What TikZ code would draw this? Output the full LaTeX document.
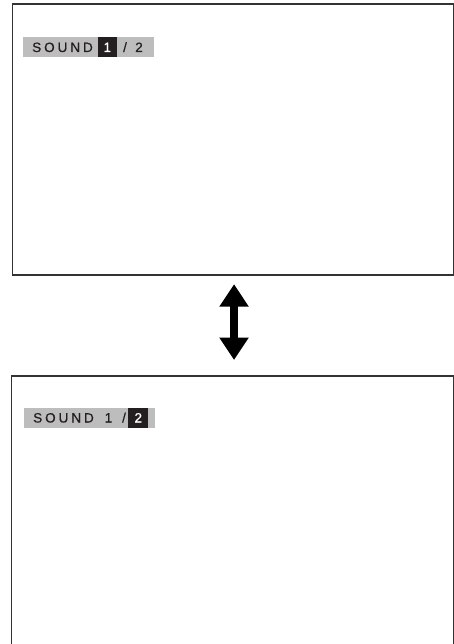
\documentclass[tikz,border=0pt]{standalone}
\usepackage{fontspec}
\setmainfont[FakeBold=0.7]{Liberation Sans}
\newfontfamily\osdfont[LetterSpace=22,FakeBold=0.7]{Liberation Sans}
\usetikzlibrary{positioning,arrows.meta}
\definecolor{osdgray}{HTML}{BDBDBD}
\definecolor{osdink}{HTML}{231F20}
\definecolor{framegray}{HTML}{333333}

\begin{document}
\begin{tikzpicture}[x=1pt, y=-1pt, font=\fontsize{13.5}{13.5}\selectfont,
	screen/.style={draw=framegray, line width=1.5pt, minimum width=441pt, anchor=north west, inner sep=0pt},
	osdbar/.style={fill=osdgray, minimum width=131pt, minimum height=19.5pt, anchor=north west, inner sep=0pt},
	selbox/.style={fill=osdink, text=white, minimum width=19.5pt, minimum height=19.5pt, inner sep=0pt},
	osdtext/.style={text=osdink, inner sep=0pt, anchor=base},
	updown/.style={{Triangle[length=22.5pt, width=28pt]}-{Triangle[length=22.5pt, width=28pt]}, line width=8pt}]
	\useasboundingbox (0,0) rectangle (454,644);
	% upper screen
	\node[screen, minimum height=270.5pt] (scr1) at (11.5,3.5) {};
	\node[osdbar] (bar1) at (23,37.3) {};
	\node[selbox] (sel1) at (107.3,47) {};
	\node[osdtext, anchor=base west] (snd1) at (32,52) {\osdfont SOUND};
	\node[osdtext, text=white] (one1) at (107.3,52) {1};
	\node[osdtext] (sl1) at (125,52) {/};
	\node[osdtext] (two1) at (139,52) {2};
	% lower screen, its bottom edge runs off the page
	\node[screen, draw=none, minimum height=280pt] (scr2) at (11.5,376) {};
	\draw[framegray, line width=1.5pt] (scr2.south west) -- (scr2.north west) -- (scr2.north east) -- (scr2.south east);
	\node[osdbar] (bar2) at (24,408) {};
	\node[selbox] (sel2) at (138,417.8) {};
	\node[osdtext, anchor=base west] (snd2) at (33,422.5) {\osdfont SOUND};
	\node[osdtext] (one2) at (108.5,422.5) {1};
	\node[osdtext] (sl2) at (124,422.5) {/};
	\node[osdtext, text=white] (two2) at (138.3,422.5) {2};
	% toggle arrow
	\draw[updown, shorten <=8.7pt, shorten >=16pt] ([xshift=1.3pt]scr1.south) -- ([xshift=1.3pt]scr2.north);
\end{tikzpicture}
\end{document}
